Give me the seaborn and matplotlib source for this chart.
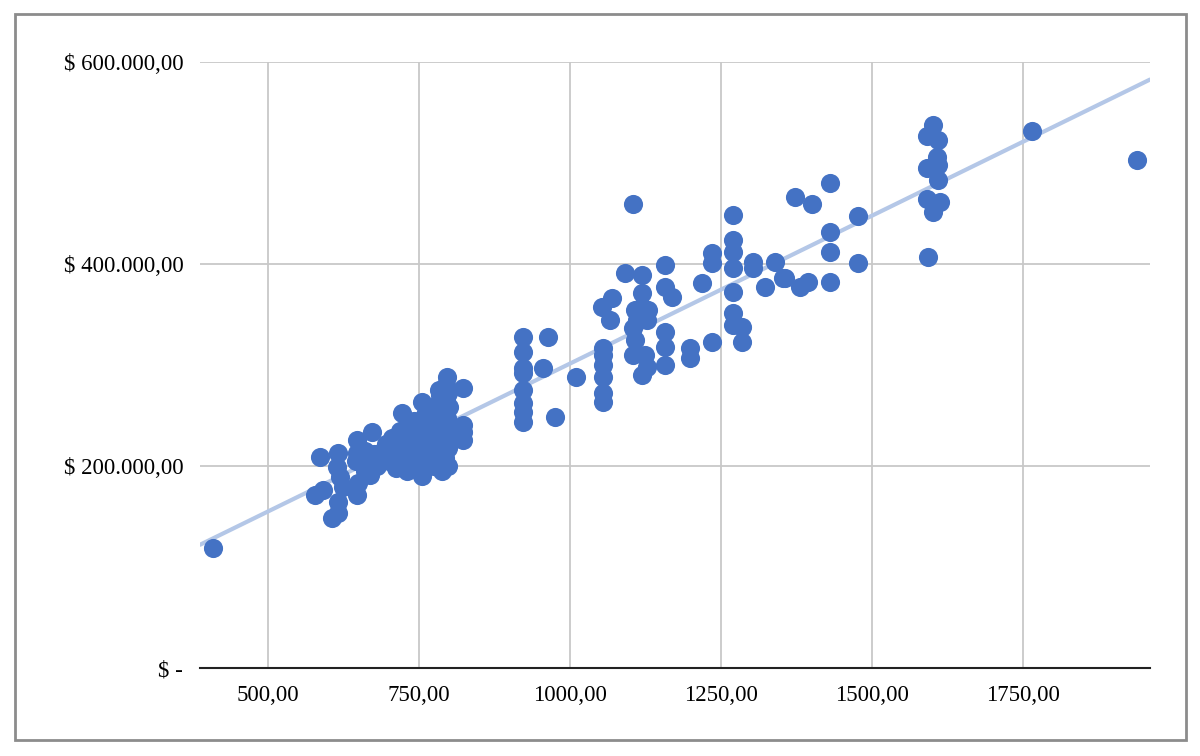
import matplotlib
matplotlib.use("Agg")
import matplotlib.pyplot as plt
import matplotlib.patches as patches
from matplotlib.ticker import FuncFormatter
import seaborn as sns
import pandas as pd

# values (x = area, y = price)
area = [
    408, 585, 578, 591, 616, 614, 619, 624, 616, 606, 616,
    647, 647, 645, 647, 649, 660, 668, 672, 669, 675, 680, 660,
    690, 695, 700, 705, 710, 712, 718, 720, 722, 725, 728, 730, 732, 735,
    738, 740, 742, 745, 748, 750, 752, 755, 755, 758, 760, 762, 765, 768,
    770, 772, 775, 778, 780, 782, 785, 785, 788, 790, 790, 792, 795, 795,
    796, 796, 797, 797, 798, 798, 800, 800, 783, 782, 823, 823, 823, 823,
    922, 922, 922, 922, 922, 922, 922, 922, 963, 955, 975, 1010,
    1055, 1055, 1055, 1055, 1055, 1055, 1053, 1070, 1066,
    1108, 1119, 1129, 1111, 1127, 1104, 1119, 1119, 1091, 1108, 1104, 1124,
    1127, 1119, 1104,
    1157, 1157, 1169, 1157, 1157, 1157, 1199, 1199, 1219, 1235, 1235, 1235,
    1270, 1270, 1270, 1270, 1270, 1270, 1285, 1285, 1270,
    1303, 1303, 1339, 1353, 1323,
    1430, 1372, 1400, 1477, 1430, 1430, 1477, 1593, 1356, 1381, 1394, 1430,
    1601, 1591, 1609, 1608, 1591, 1609, 1609, 1591, 1613, 1601,
    1765, 1939,
]
price = [
    118500, 209200, 171300, 176200, 212900, 199000, 189100, 179200, 164400, 148500, 153400,
    225700, 213000, 205000, 171300, 183000, 215000, 205000, 233700, 191100, 212000, 200000, 195000,
    215000, 222000, 205000, 228000, 212000, 198000, 235000, 218000, 252000, 205000, 228000, 195000, 240000, 215000,
    202000, 230000, 245000, 210000, 222000, 198000, 238000, 263000, 190000, 215000, 250000, 228000, 205000, 240000,
    218000, 258000, 200000, 232000, 245000, 212000, 270000, 225000, 195000, 255000, 238000, 208000, 280000, 265000,
    288000, 248000, 230000, 218000, 200000, 272000, 240000, 258000, 275000, 262000, 277200, 240600, 233700, 225700,
    327700, 312900, 297000, 292100, 275200, 262300, 253400, 243500, 327700, 297000, 248500, 288100,
    316800, 309900, 300000, 288100, 272300, 263400, 357400, 366300, 344500,
    354400, 357400, 354400, 344500, 344500, 336600, 371200, 389100, 391000, 324800, 309900, 309900,
    298000, 290100, 459400,
    399000, 377200, 367300, 332600, 317800, 300000, 316800, 306900, 381200, 322700, 410900, 401000,
    423700, 411900, 396000, 372200, 351500, 339600, 337600, 322700, 448500,
    402000, 396000, 402000, 386100, 377200,
    480200, 466300, 459400, 447500, 431700, 411900, 401000, 406900, 386100, 377200, 382100, 382100,
    537600, 526700, 522700, 505900, 495000, 498000, 483100, 464300, 461400, 451500,
    531700, 503000,
]
x_ticks = [500, 750, 1000, 1250, 1500, 1750]
y_ticks = [0, 200000, 400000, 600000]

df = pd.DataFrame({"area": area, "price": price})

sns.set_style("white")
plt.rcParams["font.family"] = ["Liberation Serif", "DejaVu Serif"]

fig = plt.figure(figsize=(12, 7.56), dpi=100)
ax = fig.add_axes([0.1667, 0.1164, 0.7916, 0.8016])
ax.set_xlim(387, 1960)
ax.set_ylim(0, 600000)

sns.regplot(data=df, x="area", y="price", ax=ax, ci=None, truncate=False,
            scatter_kws=dict(s=190, color="#4472C4", alpha=1, linewidths=0, zorder=3),
            line_kws=dict(color="#B4C7E7", lw=3, zorder=2))

ax.set_xticks(x_ticks)
ax.set_yticks(y_ticks)
ax.xaxis.set_major_formatter(FuncFormatter(lambda v, p: f"{v:.2f}".replace(".", ",")))


def money(v, p):
    if v == 0:
        return "$ -"
    s = f"{v:,.2f}".replace(",", "X").replace(".", ",").replace("X", ".")
    return "$ " + s


ax.yaxis.set_major_formatter(FuncFormatter(money))
ax.grid(True, color="#C8C8C8", lw=1.3)
ax.set_axisbelow(True)
ax.set_xlabel("")
ax.set_ylabel("")
for side in ["left", "right", "top"]:
    ax.spines[side].set_visible(False)
ax.spines["bottom"].set_color("#222222")
ax.spines["bottom"].set_linewidth(1.5)
ax.tick_params(axis="both", length=0, labelsize=16.5, colors="black")
ax.tick_params(axis="y", pad=12)
ax.tick_params(axis="x", pad=12)

fig.add_artist(patches.Rectangle((15 / 1200, 16 / 756), 1171 / 1200, 726 / 756,
                                 transform=fig.transFigure, fill=False,
                                 edgecolor="#8C8C8C", lw=2))

fig.savefig("out.png", dpi=100)
